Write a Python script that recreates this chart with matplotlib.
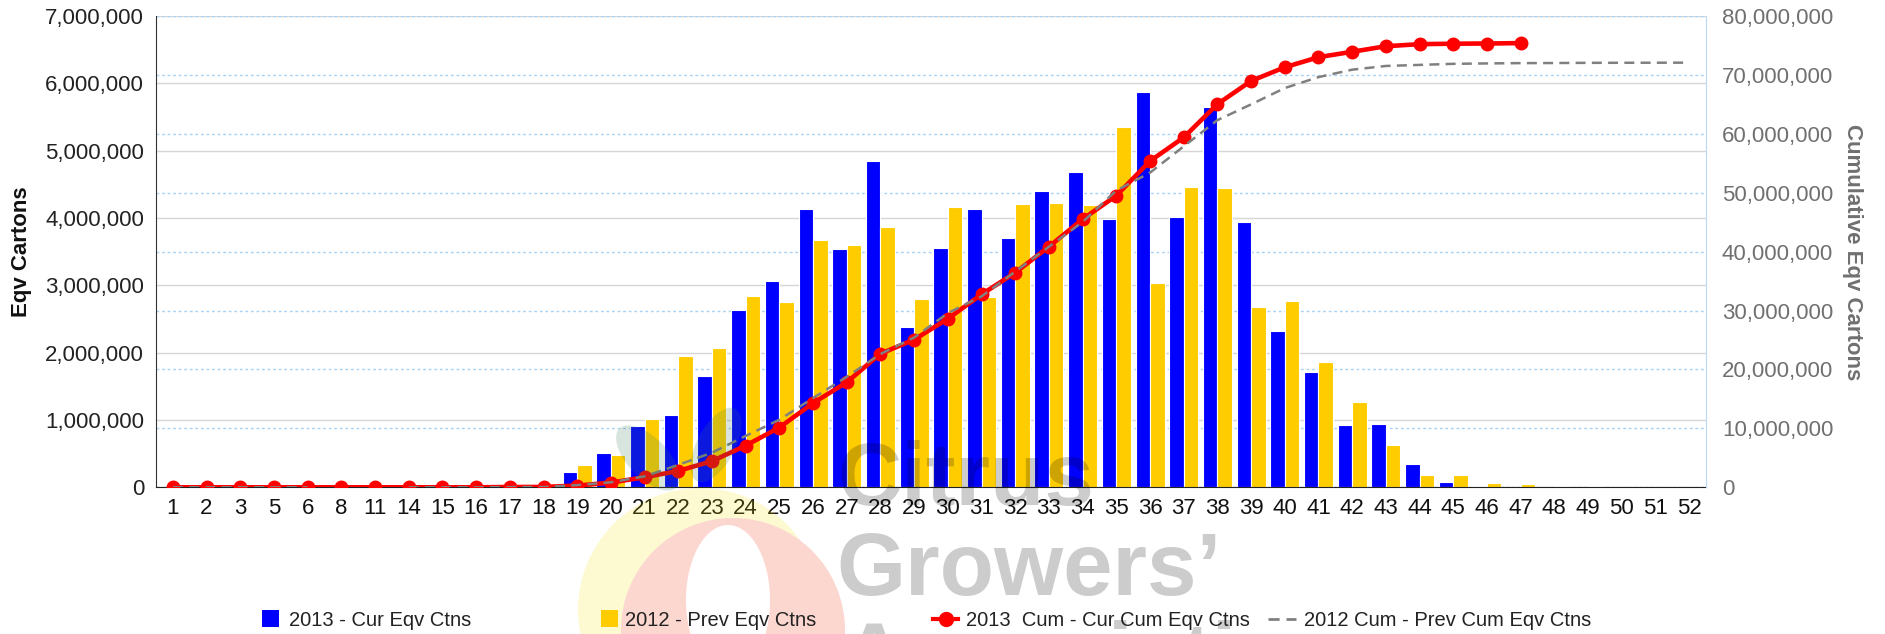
import numpy as np
import matplotlib
matplotlib.use('Agg')
import matplotlib.pyplot as plt
from matplotlib.patches import Circle, Ellipse, Rectangle
from matplotlib.lines import Line2D
from matplotlib.ticker import FuncFormatter, MultipleLocator
from matplotlib.transforms import IdentityTransform

plt.rcParams['font.family'] = ['Liberation Sans', 'DejaVu Sans']

# Week categories on the x axis
weeks = ['1', '2', '3', '5', '6', '8', '11', '14', '15', '16', '17', '18',
         '19', '20', '21', '22', '23', '24', '25', '26', '27', '28', '29', '30',
         '31', '32', '33', '34', '35', '36', '37', '38', '39', '40', '41', '42',
         '43', '44', '45', '46', '47', '48', '49', '50', '51', '52']

# 2013 weekly eqv cartons
cur_ctns = [0, 0, 0, 0, 0, 0, 0, 0, 0, 0, 45000, 10000,
            230000, 515000, 910000, 1070000, 1660000, 2640000, 3070000, 4140000,
            3540000, 4850000, 2380000, 3550000, 4130000, 3700000, 4400000, 4680000,
            3990000, 5870000, 4010000, 5650000, 3940000, 2320000, 1710000, 920000,
            940000, 350000, 84000, 25000, 10000, 0, 0, 0, 0, 0]

# 2012 weekly eqv cartons
prev_ctns = [0, 0, 0, 0, 0, 0, 0, 0, 0, 0, 25000, 5000,
             330000, 480000, 1010000, 1950000, 2070000, 2840000, 2750000, 3680000,
             3600000, 3870000, 2800000, 4160000, 2830000, 4210000, 4220000, 4190000,
             5350000, 3030000, 4460000, 4450000, 2680000, 2770000, 1860000, 1260000,
             630000, 180000, 180000, 70000, 54000, 25000, 25000, 10000, 10000, 10000]

# 2013 cumulative (millions), weeks 1..47
cur_cum_m = [0, 0, 0, 0, 0, 0, 0, 0, 0, 0, 0.05, 0.06,
             0.29, 0.80, 1.71, 2.78, 4.44, 7.08, 10.15, 14.29,
             17.83, 22.68, 25.06, 28.61, 32.74, 36.44, 40.84, 45.52,
             49.51, 55.38, 59.39, 65.04, 68.98, 71.30, 73.01, 73.93,
             74.87, 75.22, 75.30, 75.33, 75.40]

# 2012 cumulative (millions), no data for weeks 8 and 11
prev_cum_m = [0, 0, 0, 0, 0, np.nan, np.nan, 0, 0, 0, 0.03, 0.04,
              0.37, 0.85, 1.86, 3.81, 5.88, 8.72, 11.47, 15.15,
              18.75, 22.62, 25.42, 29.58, 32.41, 36.62, 40.84, 45.03,
              50.38, 53.41, 57.87, 62.32, 65.00, 67.77, 69.63, 70.89,
              71.52, 71.70, 71.88, 71.95, 72.00, 72.02, 72.05, 72.06, 72.07, 72.08]

W, H = 1885, 634
fig = plt.figure(figsize=(W / 100, H / 100), dpi=100)
ax = fig.add_axes([156 / W, 1 - 487.3 / H, 1550 / W, 471.3 / H])
ax2 = ax.twinx()

x = np.arange(len(weeks))
ax.bar(x - 0.215, cur_ctns, width=0.43, color='#0000ff', edgecolor='white',
       linewidth=0.8, zorder=2)
ax.bar(x + 0.215, prev_ctns, width=0.43, color='#ffcc00', edgecolor='white',
       linewidth=0.8, zorder=2)

ax.set_xlim(-0.5, len(weeks) - 0.5)
ax.set_ylim(0, 7e6)
ax2.set_ylim(0, 8e7)
ax.set_xticks(x)
ax.set_xticklabels(weeks)
ax.yaxis.set_major_locator(MultipleLocator(1e6))
ax2.yaxis.set_major_locator(MultipleLocator(1e7))
fmt = FuncFormatter(lambda v, p: f'{v:,.0f}')
ax.yaxis.set_major_formatter(fmt)
ax2.yaxis.set_major_formatter(fmt)

# grids: solid gray for left axis, dotted light blue for right axis
for v in ax.get_yticks():
    ax.axhline(v, color='#d6d6d6', lw=1, zorder=0)
for v in ax2.get_yticks():
    ax.axhline(v * 7e6 / 8e7, color='#a8d2f5', lw=1, ls=(0, (2, 2)), zorder=0.5)

ax2.plot(x[:len(cur_cum_m)], np.array(cur_cum_m) * 1e6, color='#ff0000', lw=3.3,
         marker='o', ms=9, zorder=3)
ax2.plot(x, np.array(prev_cum_m) * 1e6, color='#808080', lw=1.8,
         dashes=(4, 2.5), zorder=4)

for s in ['top', 'right']:
    ax.spines[s].set_visible(False)
for s in ['top', 'left', 'bottom']:
    ax2.spines[s].set_visible(False)
ax.spines['left'].set_color('#333333')
ax.spines['bottom'].set_color('#222222')
ax2.spines['right'].set_color('#bcd8f2')

ax.tick_params(axis='y', length=0, pad=8.5, labelsize=16, labelcolor='#222222')
ax.tick_params(axis='x', length=0, pad=8, labelsize=16, labelcolor='#111111')
ax2.tick_params(axis='y', length=0, pad=11.5, labelsize=16, labelcolor='#707070')

fig.text(21.5 / W, 1 - 252 / H, 'Eqv Cartons', rotation=90, ha='center',
         va='center', fontsize=16, fontweight='bold', color='#111111')
fig.text(1852 / W, 1 - 252 / H, 'Cumulative Eqv Cartons', rotation=270,
         ha='center', va='center', fontsize=16, fontweight='bold', color='#707070')

# watermark logo
idt = IdentityTransform()
fig.add_artist(Circle((700, H - 610), 122, transform=idt, fc='#f5e000',
                      ec='none', alpha=0.18, zorder=10))
fig.add_artist(Circle((733, H - 630), 112, transform=idt, fc='white',
                      ec='none', zorder=10.1))
fig.add_artist(Circle((733, H - 630), 112, transform=idt, fc='#f04a28',
                      ec='none', alpha=0.22, zorder=10.2))
fig.add_artist(Ellipse((728, H - 600), 84, 150, transform=idt, fc='white',
                       ec='none', zorder=10.5))
fig.add_artist(Ellipse((648, H - 458), 40, 82, angle=44, transform=idt,
                       fc='#3a7d5a', ec='none', alpha=0.2, zorder=10))
fig.add_artist(Ellipse((716, H - 445), 38, 82, angle=-28, transform=idt,
                       fc='#3a7d5a', ec='none', alpha=0.2, zorder=10))
wm = dict(fontsize=64, fontweight='bold', color='black', alpha=0.2,
          ha='left', va='baseline', zorder=11)
fig.text(837 / W, 1 - 505 / H, 'Citrus', **wm)
fig.text(836 / W, 1 - 595 / H, 'Growers’', **wm)
fig.text(842 / W, 1 - 685 / H, 'Association', **wm)

# legend
ly = H - 618.5
fig.add_artist(Rectangle((262, ly - 8.5), 17, 17, transform=idt, fc='#0000ff',
                         ec='none', zorder=20))
fig.add_artist(Rectangle((601, ly - 8.5), 17, 17, transform=idt, fc='#ffcc00',
                         ec='none', zorder=20))
fig.add_artist(Line2D([933, 958], [ly, ly], transform=idt, color='#ff0000', lw=3,
                      zorder=20))
fig.add_artist(Line2D([945.5], [ly], transform=idt, color='#ff0000', marker='o',
                      ms=10, zorder=20))
fig.add_artist(Line2D([1268, 1296], [ly, ly], transform=idt, color='#808080',
                      lw=2, dashes=(4, 2.5), zorder=20))
labels = [(289, '2013 - Cur Eqv Ctns'), (625, '2012 - Prev Eqv Ctns'),
          (966, '2013  Cum - Cur Cum Eqv Ctns'), (1304, '2012 Cum - Prev Cum Eqv Ctns')]
for lx, txt in labels:
    fig.text(lx / W, 1 - 626 / H, txt, fontsize=14.5, color='#222222',
             ha='left', va='baseline', zorder=20)

fig.savefig('out.png', dpi=100)
